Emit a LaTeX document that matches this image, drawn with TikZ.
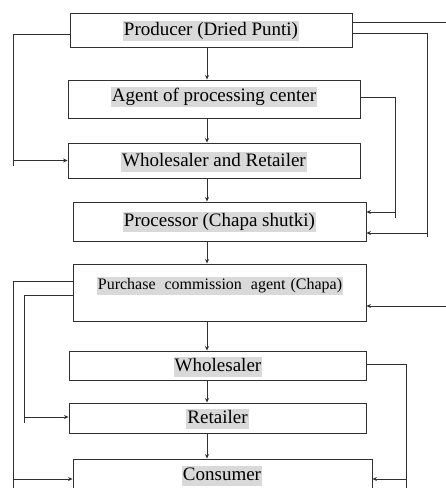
\documentclass[tikz,border=0pt]{standalone}
\usepackage{fontspec}
\setmainfont{Liberation Serif}
\usetikzlibrary{arrows.meta}
\definecolor{hl}{HTML}{D9D9D9}
\definecolor{ln}{HTML}{303030}
\begin{document}
\begin{tikzpicture}[x=1pt,y=-1pt,
  box/.style={draw=ln, line width=0.9pt, inner sep=0pt, fill=white},
  lab/.style={fill=hl, inner xsep=1pt, inner ysep=1pt, text height=13pt, text depth=4.5pt, font=\fontsize{19}{19}\selectfont},
  smalllab/.style={lab, font=\fontsize{16}{16}\selectfont, text height=11.5pt, text depth=4pt},
  conn/.style={draw=ln, line width=0.7pt},
  arr/.style={conn, -{Stealth[length=4.5pt,width=4pt]}}]
\useasboundingbox (0,0) rectangle (446,488);
% boxes
\node[box, minimum width=282pt, minimum height=34pt] (p) at (211,30) {};
\node[box, minimum width=292pt, minimum height=38pt] (a) at (214,99) {};
\node[box, minimum width=292pt, minimum height=35pt] (wr) at (214,160.5) {};
\node[box, minimum width=293pt, minimum height=39pt] (pc) at (219.5,221.5) {};
\node[box, minimum width=293pt, minimum height=57pt] (pu) at (219.5,292.5) {};
\node[box, minimum width=297pt, minimum height=29pt] (w) at (217.5,365.5) {};
\node[box, minimum width=297pt, minimum height=30pt] (r) at (217.5,418) {};
\node[box, minimum width=299pt, minimum height=51pt] (c) at (222.5,484.5) {};
% labels
\node[lab] (tp) at (211,31) {Producer (Dried Punti)};
\node[lab] (ta) at (214,97) {Agent of processing center};
\node[lab] (twr) at (214,162) {Wholesaler and Retailer};
\node[lab] (tpc) at (219.5,222) {Processor (Chapa shutki)};
\node[smalllab] (tpu) at (220,286) {Purchase\hspace{5pt} commission\hspace{5pt} agent\hspace{1pt} (Chapa)};
\node[lab] (tw) at (218,367) {Wholesaler};
\node[lab] (tr) at (217.5,419) {Retailer};
\node[lab] (tc) at (222,476) {Consumer};
% main vertical chain
\coordinate (ax) at (207,0);
\draw[arr] (p.south -| ax) -- (a.north -| ax);
\draw[arr] (a.south -| ax) -- (wr.north -| ax);
\draw[arr] (wr.south -| ax) -- (pc.north -| ax);
\draw[arr] (pc.south -| ax) -- (pu.north -| ax);
\draw[arr] (pu.south -| ax) -- (w.north -| ax);
\draw[arr] (w.south -| ax) -- (r.north -| ax);
\draw[arr] (r.south -| ax) -- (c.north -| ax);
% left connectors
\coordinate (l1) at (13,0);
\coordinate (l2) at (24,0);
\draw[arr] ([yshift=-4pt]p.west) -- ([yshift=-4pt]p.west -| l1) |- (wr.west);
\draw[conn] (wr.west -| l1) -- ++(0,5);
\draw[arr] ([yshift=11.5pt]pu.west) -- ([yshift=11.5pt]pu.west -| l1) |- ([yshift=5.5pt]c.west);
\draw[conn] ([yshift=5.5pt]c.west -| l1) -- ++(0,12);
\draw[arr] ([yshift=-2.5pt]pu.west) -- ([yshift=-2.5pt]pu.west -| l2) |- ([yshift=1pt]r.west);
\draw[conn] ([yshift=1pt]r.west -| l2) -- ++(0,6);
% right connectors
\coordinate (r1) at (450,0);
\coordinate (r2) at (427,0);
\coordinate (r3) at (395,0);
\coordinate (r4) at (406,0);
\draw[arr] ([yshift=8pt]p.east) -- ([yshift=8pt]p.east -| r1) |- ([yshift=-13.5pt]pu.east);
\draw[arr] ([yshift=-3pt]p.east) -- ([yshift=-3pt]p.east -| r2) |- ([yshift=-11.5pt]pc.east);
\draw[conn] ([yshift=-11.5pt]pc.east -| r2) -- ++(0,4);
\draw[arr] ([yshift=2pt]a.east) -- ([yshift=2pt]a.east -| r3) |- ([yshift=9.5pt]pc.east);
\draw[conn] ([yshift=9.5pt]pc.east -| r3) -- ++(0,6);
\draw[arr] ([yshift=1.5pt]w.east) -- ([yshift=1.5pt]w.east -| r4) |- ([yshift=5.5pt]c.east);
\draw[conn] ([yshift=5.5pt]c.east -| r4) -- ++(0,12);
\end{tikzpicture}
\end{document}
